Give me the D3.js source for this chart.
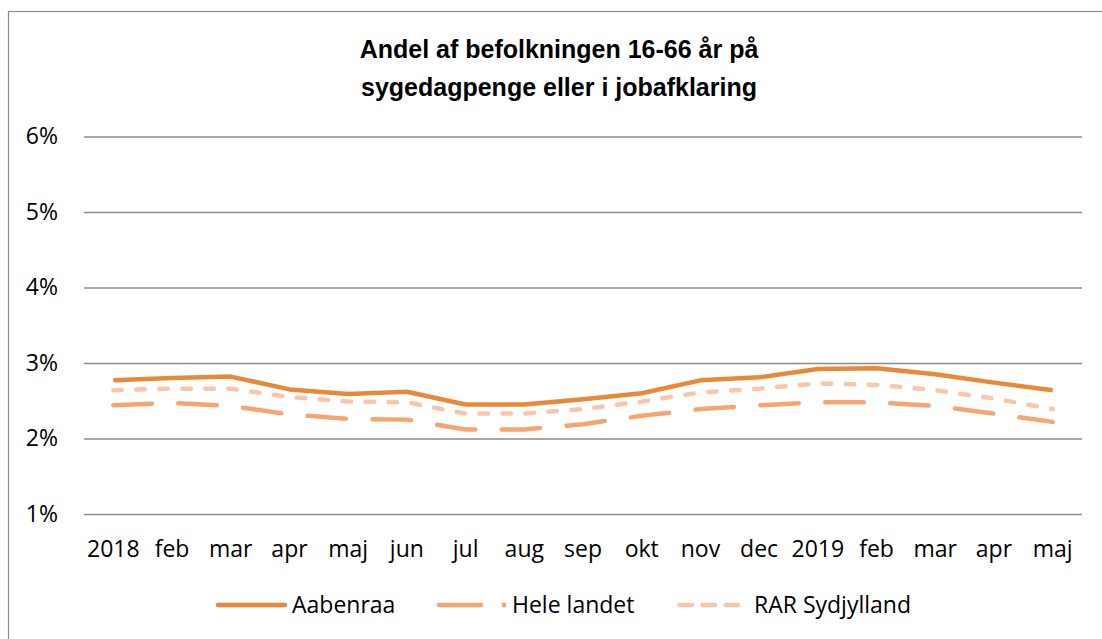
<!DOCTYPE html>
<html><head><meta charset="utf-8">
<script src="https://cdn.jsdelivr.net/npm/d3@7"></script>
<style>body{margin:0;background:#fff}svg{display:block}</style>
</head><body>
<svg id="c" width="1102" height="639"></svg>
<script>
const categories = ["2018","feb","mar","apr","maj","jun","jul","aug","sep","okt","nov","dec","2019","feb","mar","apr","maj"];
const aabenraa = [2.77,2.80,2.82,2.65,2.59,2.62,2.45,2.45,2.52,2.60,2.77,2.81,2.92,2.93,2.85,2.74,2.64];
const heleLandet = [2.44,2.47,2.43,2.32,2.26,2.25,2.12,2.12,2.19,2.30,2.39,2.44,2.48,2.48,2.43,2.33,2.22];
const rarSydjylland = [2.64,2.66,2.66,2.55,2.49,2.48,2.33,2.33,2.39,2.49,2.61,2.66,2.73,2.71,2.64,2.53,2.39];
const yTicks = [1,2,3,4,5,6];
const titleLines = ["Andel af befolkningen 16-66 år på","sygedagpenge eller i jobafklaring"];
const seriesNames = ["Aabenraa","Hele landet","RAR Sydjylland"];

const svg = d3.select("#c");
svg.append("rect").attr("x",8.5).attr("y",11.5).attr("width",1100).attr("height",640)
  .attr("fill","#fff").attr("stroke","#8c8c8c").attr("stroke-width",1.2);

const x = d3.scaleBand().domain(d3.range(categories.length)).range([84,1082]);
const y = d3.scaleLinear().domain([1,6]).range([514,136.5]);

const tf = "'Open Sans', sans-serif";
// title
svg.append("g").selectAll("text").data(titleLines).join("text")
  .attr("x",559).attr("y",(d,i)=>58+i*38).attr("text-anchor","middle")
  .attr("font-family","'Liberation Sans Narrow','Arial Narrow',sans-serif").attr("font-weight","bold")
  .attr("font-size",25).attr("fill","#000").text(d=>d);

// grid
const yAxis = d3.axisLeft(y).tickValues(yTicks).tickSize(-(1082-84)).tickFormat(d=>d+"%").tickPadding(26);
const gy = svg.append("g").attr("transform","translate(84,0)").call(yAxis);
gy.select(".domain").remove();
gy.selectAll(".tick line").attr("stroke","#8c8c8c").attr("stroke-width",1.5);
gy.selectAll(".tick text").attr("font-family",tf).attr("font-size",23).attr("fill","#000");

const xAxis = d3.axisBottom(x).tickFormat(i=>categories[i]).tickSize(0).tickPadding(27);
const gx = svg.append("g").attr("transform","translate(0,514)").call(xAxis);
gx.select(".domain").remove();
gx.selectAll(".tick text").attr("font-family",tf).attr("font-size",23).attr("fill","#000");

const line = d3.line().x((d,i)=>x(i)+x.bandwidth()/2).y(d=>y(d));
const series = [
  {name:seriesNames[2], data:rarSydjylland, color:"#F8C7AA", dash:"8.5,14.5", w:4.5},
  {name:seriesNames[1], data:heleLandet, color:"#F5A670", dash:"38.5,26.5", w:4.5},
  {name:seriesNames[0], data:aabenraa, color:"#E8893A", dash:null, w:4.5}
];
series.forEach(s=>{
  svg.append("path").datum(s.data).attr("d",line).attr("fill","none")
    .attr("stroke",s.color).attr("stroke-width",s.w)
    .attr("stroke-linecap",s.dash?"round":"butt").attr("stroke-linejoin","round")
    .attr("stroke-dasharray",s.dash);
});

// legend
const lg = svg.append("g");
const ly = 605;
lg.append("line").attr("x1",218).attr("x2",285).attr("y1",ly).attr("y2",ly)
  .attr("stroke","#E8893A").attr("stroke-width",4.5).attr("stroke-linecap","round");
lg.append("text").attr("x",292).attr("y",ly+8).text(seriesNames[0]);
lg.append("line").attr("x1",439).attr("x2",481).attr("y1",ly).attr("y2",ly)
  .attr("stroke","#F5A670").attr("stroke-width",4.5).attr("stroke-linecap","round");
lg.append("circle").attr("cx",504).attr("cy",ly).attr("r",2.4).attr("fill","#F5A670");
lg.append("text").attr("x",512).attr("y",ly+8).text(seriesNames[1]);
lg.append("line").attr("x1",679.5).attr("x2",738.5).attr("y1",ly).attr("y2",ly)
  .attr("stroke","#F8C7AA").attr("stroke-width",4.5).attr("stroke-linecap","round").attr("stroke-dasharray","12.5,10.5");
lg.append("text").attr("x",754).attr("y",ly+8).text(seriesNames[2]);
lg.selectAll("text").attr("font-family",tf).attr("font-size",23).attr("fill","#000");
</script>
</body></html>
